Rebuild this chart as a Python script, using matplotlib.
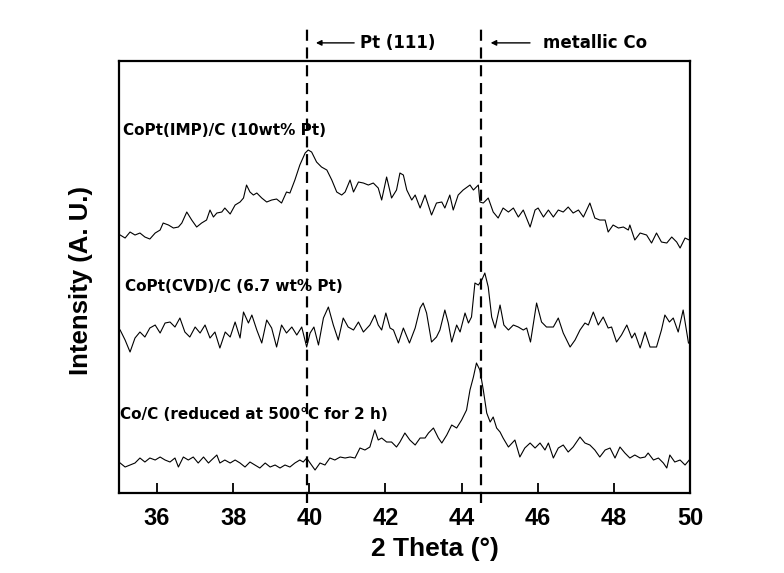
import matplotlib.pyplot as plt

# XRD scans, 2 theta (deg) and intensity (a.u.)
imp_theta = [35.03, 35.16, 35.29, 35.42, 35.55, 35.68, 35.81, 35.95, 36.08, 36.16,
             36.30, 36.43, 36.56, 36.65, 36.78, 36.91, 37.04, 37.17, 37.30, 37.39,
             37.48, 37.57, 37.70, 37.78, 37.92, 38.05, 38.18, 38.27, 38.35, 38.44,
             38.53, 38.62, 38.75, 38.88, 39.01, 39.14, 39.27, 39.40, 39.49, 39.62,
             39.75, 39.89, 39.97, 40.06, 40.19, 40.32, 40.46, 40.59, 40.72, 40.85,
             40.94, 41.07, 41.16, 41.29, 41.42, 41.55, 41.68, 41.81, 41.90, 42.03,
             42.16, 42.29,
             42.38, 42.47, 42.56, 42.69, 42.78, 42.91, 43.04, 43.21, 43.34, 43.48,
             43.56, 43.69, 43.78, 43.91, 44.04, 44.22, 44.31, 44.44, 44.48, 44.57,
             44.70, 44.83, 44.96, 45.09, 45.23, 45.36, 45.49, 45.62, 45.80, 45.93,
             46.01, 46.15, 46.28, 46.41, 46.54, 46.67, 46.80, 46.93, 47.07, 47.20,
             47.37, 47.50, 47.63, 47.77, 47.85, 47.98, 48.12, 48.25, 48.38, 48.42,
             48.55, 48.69, 48.86, 48.99, 49.12, 49.25, 49.39, 49.52, 49.65, 49.74,
             49.87, 49.98]
imp_int = [258, 255, 261, 258, 260, 256, 254, 260, 263, 270,
           268, 265, 266, 270, 281, 273, 266, 270, 273, 283,
           276, 280, 281, 285, 279, 288, 291, 295, 308, 301,
           298, 300, 295, 291, 293, 294, 290, 301, 300, 313,
           328, 340, 343, 341, 331, 326, 323, 313, 301, 298,
           301, 313, 301, 311, 310, 308, 310, 305, 293, 316,
           295, 303,
           320, 318, 303, 293, 298, 285, 298, 278, 290, 291,
           285, 298, 283, 298, 303, 308, 303, 308, 291, 290,
           295, 281, 275, 285, 281, 285, 276, 283, 266, 283,
           285, 276, 283, 276, 283, 281, 286, 280, 283, 276,
           290, 275, 273, 273, 261, 268, 265, 266, 263, 268,
           253, 260, 258, 250, 260, 251, 250, 256, 251, 245,
           255, 253]

cvd_theta = [35.03, 35.16, 35.29, 35.42, 35.55, 35.68, 35.81, 35.95, 36.08, 36.21,
             36.34, 36.47, 36.60, 36.73, 36.86, 37.00, 37.13, 37.26, 37.39, 37.52,
             37.65, 37.79, 37.92, 38.05, 38.18, 38.27, 38.40, 38.49, 38.62, 38.75,
             38.88, 39.01, 39.14, 39.27, 39.40, 39.54, 39.67, 39.80, 39.93, 40.02,
             40.12, 40.24, 40.37, 40.50, 40.63, 40.76, 40.89, 41.02, 41.16, 41.29,
             41.42, 41.59, 41.72, 41.81, 41.90, 42.01, 42.12, 42.21, 42.34, 42.47,
             42.63,
             42.78, 42.91, 42.99, 43.08, 43.21, 43.34, 43.43, 43.56, 43.65, 43.74,
             43.87, 43.96, 44.09, 44.18, 44.26, 44.35, 44.44, 44.53, 44.61, 44.70,
             44.79, 44.88, 45.01, 45.11, 45.23, 45.36, 45.49, 45.62, 45.71, 45.81,
             45.97, 46.10, 46.23, 46.41, 46.54, 46.67, 46.85, 46.98, 47.11, 47.24,
             47.33, 47.46, 47.59, 47.72, 47.85, 47.94, 48.07, 48.20, 48.34, 48.47,
             48.55, 48.69, 48.82, 48.95, 49.12, 49.25, 49.34, 49.46, 49.56, 49.69,
             49.82, 49.96]
cvd_int = [163, 153, 141, 155, 161, 156, 165, 168, 160, 170,
           171, 166, 175, 161, 156, 166, 160, 168, 155, 161,
           145, 161, 156, 171, 155, 181, 170, 178, 163, 150,
           173, 165, 146, 168, 160, 166, 158, 166, 146, 160,
           166, 148, 175, 186, 168, 153, 175, 166, 163, 171,
           161, 168, 178, 168, 163, 180, 165, 163, 150, 165,
           150,
           165, 185, 190, 180, 151, 156, 163, 183, 170, 151,
           168, 161, 180, 170, 176, 210, 208, 213, 220, 206,
           176, 165, 188, 168, 163, 168, 166, 163, 165, 151,
           190, 171, 166, 166, 175, 160, 146, 153, 163, 170,
           168, 181, 168, 176, 165, 166, 151, 158, 168, 155,
           160, 145, 161, 146, 146, 163, 178, 171, 175, 161,
           183, 150]

co_theta = [35.03, 35.16, 35.29, 35.42, 35.55, 35.68, 35.81, 35.95, 36.08, 36.21,
            36.34, 36.47, 36.56, 36.69, 36.82, 36.95, 37.08, 37.22, 37.35, 37.43,
            37.57, 37.65, 37.78, 37.92, 38.05, 38.18, 38.31, 38.44, 38.57, 38.70,
            38.84, 38.97, 39.10, 39.23, 39.36, 39.49, 39.62, 39.75, 39.84, 39.93,
            40.02, 40.15, 40.28, 40.41, 40.54, 40.67, 40.81, 40.94, 41.07, 41.20,
            41.33, 41.46, 41.59, 41.72, 41.81, 41.90, 42.03, 42.16, 42.29,
            42.38, 42.51, 42.64, 42.78, 42.91, 43.04, 43.13, 43.26, 43.39, 43.48,
            43.61, 43.74, 43.87, 44.00, 44.13, 44.22, 44.31, 44.39, 44.48, 44.57,
            44.66, 44.75, 44.83, 44.92, 45.01, 45.09, 45.23, 45.40, 45.53, 45.66,
            45.80, 45.93, 46.06, 46.19, 46.28, 46.41, 46.54, 46.67, 46.80, 46.93,
            47.11, 47.24, 47.37, 47.50, 47.63, 47.77, 47.90, 48.03, 48.16, 48.29,
            48.42, 48.55, 48.69, 48.82, 48.90, 49.04, 49.17, 49.30, 49.39, 49.47,
            49.60, 49.74, 49.87, 49.98]
co_int = [30, 26, 28, 30, 35, 31, 35, 33, 36, 33,
          31, 35, 26, 36, 33, 36, 30, 36, 30, 33,
          38, 30, 33, 30, 33, 30, 26, 31, 28, 25,
          30, 26, 28, 25, 28, 26, 30, 33, 31, 35,
          30, 23, 30, 28, 35, 33, 36, 35, 36, 35,
          45, 43, 46, 63, 53, 55, 51, 51, 46,
          51, 60, 53, 48, 55, 55, 60, 65, 55, 50,
          58, 68, 65, 73, 83, 103, 116, 130, 123, 103,
          80, 71, 76, 65, 61, 55, 46, 53, 36, 45,
          50, 45, 50, 43, 50, 35, 45, 48, 41, 46,
          56, 50, 48, 43, 36, 43, 45, 35, 46, 40,
          35, 38, 35, 36, 40, 33, 35, 30, 25, 38,
          31, 33, 28, 33]

xticks = [36, 38, 40, 42, 44, 46, 48, 50]
pt_line = 39.93   # Pt (111)
co_line = 44.50   # metallic Co

arial = ['Liberation Sans', 'DejaVu Sans']
narrow = ['Liberation Sans Narrow', 'Liberation Sans', 'DejaVu Sans']

fig = plt.figure(figsize=(7.84, 5.73), dpi=100)
ax = fig.add_axes([0.1518, 0.1396, 0.7283, 0.7539])

# the three scans
ax.plot(imp_theta, imp_int, color='black', lw=0.8)
ax.plot(cvd_theta, cvd_int, color='black', lw=0.8)
ax.plot(co_theta, co_int, color='black', lw=0.8)

ax.set_xlim(35, 50)
ax.set_ylim(0, 432)
ax.set_xticks(xticks)
ax.set_yticks([])
ax.tick_params(axis='x', direction='in', length=7, width=1.3, pad=10)
for lbl in ax.get_xticklabels():
    lbl.set_family(narrow)
    lbl.set_fontweight('bold')
    lbl.set_fontsize(17)
for sp in ax.spines.values():
    sp.set_linewidth(1.6)

# reference lines, sticking out above and below the frame
trans = ax.get_xaxis_transform()
for xv in (pt_line, co_line):
    ax.plot([xv, xv], [-0.023, 1.074], transform=trans, clip_on=False,
            color='black', lw=1.6, linestyle=(0, (5, 3)))

# arrows + peak names above the frame
arrow = dict(arrowstyle='-|>', color='black', lw=1.0, mutation_scale=8)
ax.annotate('', xy=(40.10, 1.042), xytext=(41.25, 1.042),
            xycoords=trans, textcoords=trans, arrowprops=arrow)
ax.text(41.33, 1.042, 'Pt (111)', transform=trans, ha='left', va='center',
        fontsize=12, fontweight='bold')
ax.annotate('', xy=(44.69, 1.042), xytext=(45.87, 1.042),
            xycoords=trans, textcoords=trans, arrowprops=arrow)
ax.text(46.14, 1.042, 'metallic Co', transform=trans, ha='left', va='center',
        fontsize=12, fontweight='bold')

# sample names
ax.text(35.1, 363, 'CoPt(IMP)/C (10wt% Pt)', ha='left', va='center',
        fontsize=11, fontweight='bold')
ax.text(35.16, 207, 'CoPt(CVD)/C (6.7 wt% Pt)', ha='left', va='center',
        fontsize=11, fontweight='bold')
ax.text(35.03, 79, 'Co/C (reduced at 500°C for 2 h)', ha='left', va='center',
        fontsize=11, fontweight='bold')

# axis titles
fig.text(0.555, 0.042, '2 Theta (°)', ha='center', va='center',
         fontsize=19, fontweight='bold', family=arial)
fig.text(0.103, 0.51, 'Intensity (A. U.)', ha='center', va='center',
         rotation=90, fontsize=18.5, fontweight='bold', family=arial)

plt.savefig('out.png', dpi=100)
